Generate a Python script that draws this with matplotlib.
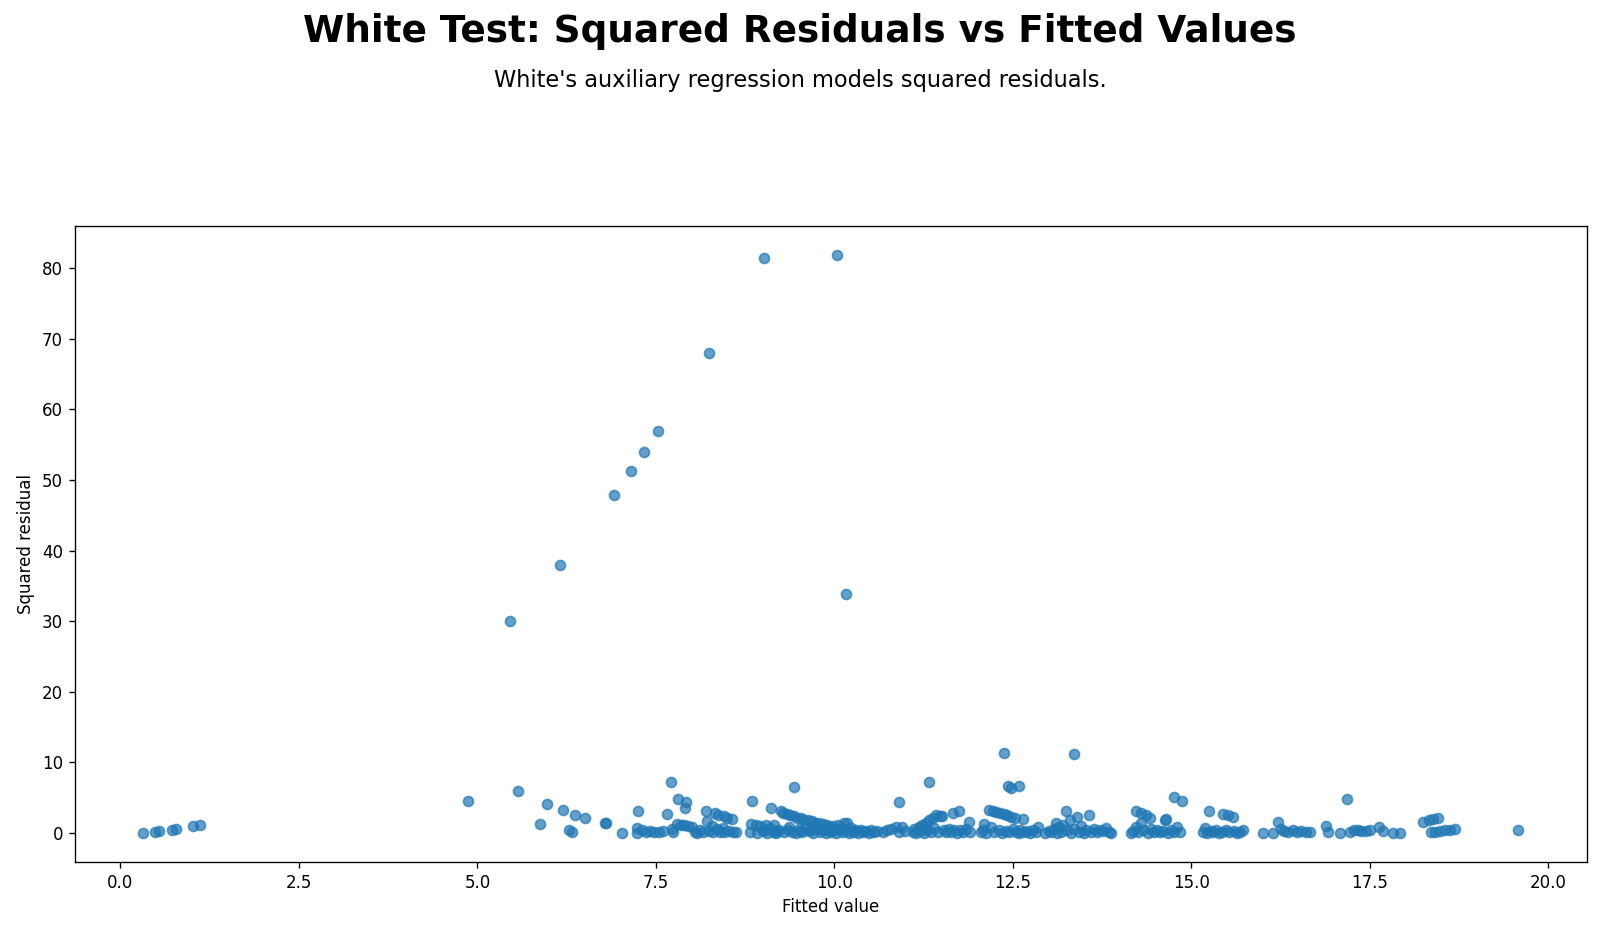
"""
White test diagnostic: squared residuals against fitted values
"""
import numpy as np
import matplotlib
matplotlib.use("Agg")
import matplotlib.pyplot as plt

# values, grouped by cluster along the x axis
fit_left = [0.32, 0.48, 0.54, 0.72, 0.78, 1.02, 1.12]
res_left = [0.0, 0.2, 0.3, 0.5, 0.6, 1.0, 1.2]

fit_rise = [4.87, 5.46, 5.57, 5.88, 5.97, 6.16, 6.20, 6.28, 6.32, 6.37, 6.50,
            6.79, 6.80, 6.92, 7.03]
res_rise = [4.5, 30.1, 5.9, 1.3, 4.1, 38.0, 3.3, 0.5, 0.1, 2.6, 2.2,
            1.5, 1.4, 47.9, 0.0]

fit_high = [7.15, 7.33, 7.53, 8.25, 9.01, 10.04, 10.16]
res_high = [51.2, 54.0, 56.9, 68.0, 81.4, 81.8, 33.9]

fit_mid = [7.71, 7.81, 7.92, 7.91, 9.44, 8.85, 9.11, 10.91, 11.33, 12.38,
           13.35, 12.43, 12.47, 12.58, 14.76, 14.87, 17.18, 19.58]
res_mid = [7.3, 4.8, 4.4, 3.6, 6.5, 4.6, 3.6, 4.4, 7.2, 11.4,
           11.2, 6.7, 6.4, 6.7, 5.1, 4.6, 4.8, 0.4]

fit_c = [7.23, 7.24, 7.25, 7.30, 7.36, 7.42, 7.48, 7.54, 7.60, 7.66, 7.72,
         7.74, 7.80, 7.85, 7.90, 7.95, 8.00, 8.05, 8.08, 8.12, 8.16, 8.20,
         8.22, 8.25, 8.30, 8.33, 8.37, 8.40, 8.45, 8.46, 8.50, 8.52, 8.56,
         8.58, 8.62, 8.28, 8.35, 8.44]
res_c = [0.0, 0.7, 3.1, 0.4, 0.2, 0.3, 0.2, 0.2, 0.3, 2.7, 0.6,
         0.1, 1.3, 1.1, 1.2, 1.0, 0.9, 0.2, 0.0, 0.4, 0.1, 3.2,
         1.7, 0.3, 0.1, 2.8, 2.6, 0.2, 2.4, 0.1, 2.2, 0.3, 2.0,
         0.2, 0.2, 1.0, 0.6, 0.7]

fit_d = [8.82, 8.83, 8.90, 8.92, 8.96, 9.00, 9.04, 9.06, 9.10, 9.14, 9.16,
         9.18, 9.22, 9.25, 9.28, 9.30, 9.33, 9.36, 9.38, 9.40, 9.43, 9.46,
         9.48, 9.50, 9.53, 9.55, 9.58, 9.60, 9.63, 9.65, 9.68, 9.70, 9.73,
         9.75, 9.78, 9.80, 9.84, 9.86, 9.88, 9.90, 9.92, 9.95, 9.98, 10.00,
         10.02, 10.05, 10.08, 10.10, 10.13, 10.15, 10.18, 10.20, 10.23,
         10.26, 10.30, 10.33, 10.37, 10.40, 10.44, 10.48, 10.52, 10.56,
         10.60, 9.02, 9.20, 9.35, 9.52, 9.67, 9.82, 9.97, 10.12, 10.28]
res_d = [0.1, 1.3, 1.2, 0.0, 1.0, 0.3, 1.1, 0.0, 0.7, 0.2, 1.2,
         0.0, 0.5, 3.1, 2.9, 0.1, 2.7, 0.8, 2.5, 0.2, 2.4, 0.0,
         2.2, 0.6, 2.1, 0.1, 1.9, 0.9, 1.8, 0.3, 1.7, 0.0, 1.5,
         0.7, 1.4, 0.2, 1.3, 0.5, 0.0, 1.2, 0.8, 0.1, 1.0, 0.4,
         0.0, 1.2, 0.6, 0.1, 1.4, 0.3, 1.5, 0.0, 0.7,
         0.2, 0.5, 0.0, 0.4, 0.1, 0.3, 0.0, 0.4, 0.1,
         0.3, 0.5, 0.3, 0.4, 0.3, 0.5, 0.4, 0.5, 0.6, 0.3]

fit_e = [10.68, 10.74, 10.80, 10.86, 10.90, 10.95, 10.99]
res_e = [0.2, 0.4, 0.6, 0.8, 0.1, 0.9, 0.3]

fit_f = [11.10, 11.12, 11.15, 11.18, 11.20, 11.23, 11.25, 11.28, 11.30, 11.32,
         11.35, 11.38, 11.40, 11.42, 11.45, 11.48, 11.51, 11.53, 11.57, 11.60,
         11.63, 11.66, 11.68, 11.72, 11.74, 11.76, 11.80, 11.84, 11.88, 11.90]
res_f = [0.1, 0.6, 0.0, 0.9, 0.3, 1.2, 0.0, 1.5, 0.5, 1.8,
         0.1, 2.1, 0.7, 2.6, 0.2, 2.4, 2.4, 0.4, 0.1, 0.6,
         0.2, 2.8, 0.5, 0.0, 3.1, 0.4, 0.2, 0.6, 1.6, 0.1]

fit_g = [12.05, 12.08, 12.10, 12.13, 12.17, 12.20, 12.22, 12.24, 12.27, 12.30,
         12.32, 12.35, 12.37, 12.40, 12.42, 12.45, 12.48, 12.50, 12.53, 12.55,
         12.58, 12.60, 12.64, 12.66, 12.70, 12.74, 12.78, 12.82, 12.85]
res_g = [0.1, 0.5, 1.3, 0.0, 3.3, 0.9, 3.1, 0.2, 3.0, 0.5,
         2.8, 0.0, 2.7, 0.3, 2.5, 0.1, 2.3, 0.6, 2.2, 0.2,
         0.0, 0.4, 2.0, 0.1, 0.3, 0.0, 0.5, 0.2, 0.9]

fit_h = [12.95, 13.00, 13.04, 13.08, 13.10, 13.12, 13.15, 13.18, 13.20, 13.24,
         13.26, 13.30, 13.32, 13.36, 13.40, 13.42, 13.46, 13.50, 13.53, 13.57,
         13.60, 13.64, 13.68, 13.72, 13.76, 13.80, 13.84, 13.88]
res_h = [0.0, 0.3, 0.1, 0.6, 1.5, 0.0, 0.8, 0.2, 1.2, 3.2,
         0.4, 1.8, 0.0, 0.6, 2.3, 0.2, 1.0, 0.0, 0.4, 2.5,
         0.2, 0.6, 0.1, 0.5, 0.3, 0.7, 0.2, 0.0]

fit_i = [14.15, 14.18, 14.22, 14.23, 14.26, 14.29, 14.30, 14.33, 14.37, 14.39,
         14.42, 14.44, 14.48, 14.52, 14.56, 14.60, 14.64, 14.63, 14.68, 14.72,
         14.76, 14.80, 14.84]
res_i = [0.0, 0.3, 0.8, 3.2, 0.1, 1.5, 2.9, 0.4, 2.5, 0.0,
         2.2, 0.6, 0.2, 0.5, 0.1, 0.3, 2.0, 1.8, 0.0, 0.4,
         0.2, 0.9, 0.1]

fit_j = [15.17, 15.19, 15.22, 15.25, 15.27, 15.31, 15.35, 15.39, 15.43, 15.44,
         15.48, 15.52, 15.53, 15.58, 15.60, 15.64, 15.68, 15.72]
res_j = [0.1, 0.7, 0.0, 3.1, 0.3, 0.1, 0.4, 0.0, 0.2, 2.7,
         0.5, 2.6, 0.1, 2.3, 0.3, 0.0, 0.2, 0.5]

fit_k = [16.00, 16.14, 16.21, 16.25, 16.30, 16.36, 16.42, 16.48, 16.54, 16.60,
         16.66]
res_k = [0.0, 0.0, 1.6, 0.6, 0.3, 0.2, 0.4, 0.2, 0.3, 0.2, 0.2]

fit_l = [16.89, 16.91, 17.08, 17.22, 17.28, 17.33, 17.38, 17.44, 17.50, 17.63,
         17.68, 17.82, 17.92]
res_l = [1.0, 0.2, 0.0, 0.1, 0.4, 0.5, 0.3, 0.3, 0.4, 0.8, 0.3, 0.0, 0.0]

fit_m = [18.25, 18.33, 18.39, 18.46, 18.36, 18.42, 18.48, 18.55, 18.63, 18.70]
res_m = [1.6, 1.9, 2.0, 2.1, 0.1, 0.2, 0.3, 0.4, 0.5, 0.6]

fitted = np.concatenate([fit_left, fit_rise, fit_high, fit_mid, fit_c, fit_d,
                         fit_e, fit_f, fit_g, fit_h, fit_i, fit_j, fit_k,
                         fit_l, fit_m])
sq_resid = np.concatenate([res_left, res_rise, res_high, res_mid, res_c, res_d,
                           res_e, res_f, res_g, res_h, res_i, res_j, res_k,
                           res_l, res_m])

# figure
fig, ax = plt.subplots(figsize=(1600 / 120, 932 / 120), dpi=120)
fig.subplots_adjust(left=0.0466, right=0.9919, bottom=0.0751, top=0.757)

ax.scatter(fitted, sq_resid, alpha=0.7, color="tab:blue")
ax.set_xlabel("Fitted value")
ax.set_ylabel("Squared residual")

fig.text(0.5, 1 - 31 / 932, "White Test: Squared Residuals vs Fitted Values",
         ha="center", va="center", fontsize=22.4, fontweight="bold")
fig.text(0.5, 1 - 81 / 932, "White's auxiliary regression models squared residuals.",
         ha="center", va="center", fontsize=13.5)

fig.savefig("out.png", dpi=120)
plt.close(fig)
